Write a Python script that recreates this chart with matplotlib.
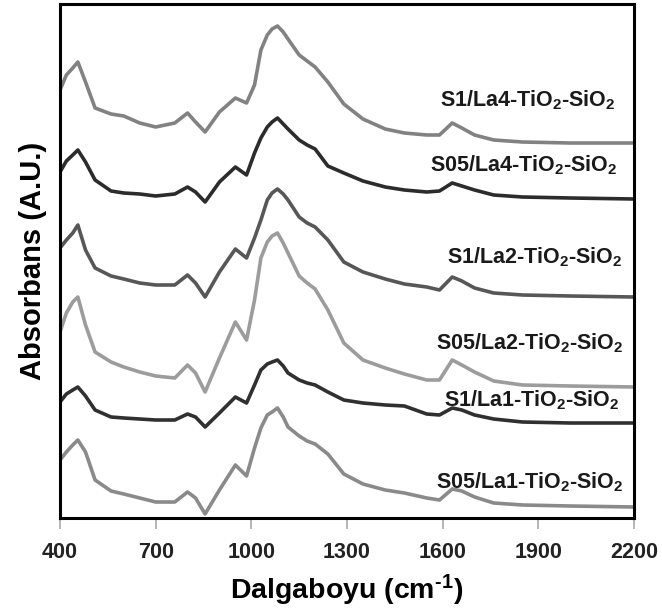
import numpy as np
import matplotlib
matplotlib.use("Agg")
import matplotlib.pyplot as plt

plt.rcParams['font.family'] = ['Liberation Sans', 'DejaVu Sans']
plt.rcParams['font.weight'] = 'bold'
plt.rcParams['mathtext.fontset'] = 'custom'
plt.rcParams['mathtext.bf'] = 'Liberation Sans:bold'
plt.rcParams['mathtext.rm'] = 'Liberation Sans:bold'
plt.rcParams['mathtext.default'] = 'bf'

# wavenumber grid (cm-1)
wn = [400, 420, 440, 456, 480, 510, 560, 600, 650, 700, 760, 800, 825, 855,
      900, 950, 985, 1010, 1030, 1050, 1065, 1082, 1100, 1115, 1150, 1175, 1200,
      1240, 1290, 1350, 1420, 1480, 1550, 1590, 1630, 1660, 1700, 1760, 1850,
      2000, 2200]

# absorbance (A.U., stacked with offsets as in the figure)
s1_la4 = [4.28, 4.43, 4.50, 4.56, 4.36, 4.10, 4.04, 4.02, 3.95, 3.91, 3.95, 4.05,
          3.96, 3.86, 4.06, 4.20, 4.15, 4.33, 4.68, 4.83, 4.89, 4.92, 4.86, 4.79,
          4.63, 4.57, 4.51, 4.36, 4.14, 3.99, 3.89, 3.85, 3.83, 3.83, 3.95, 3.90,
          3.83, 3.78, 3.76, 3.75, 3.75]
s05_la4 = [3.46, 3.57, 3.63, 3.68, 3.56, 3.38, 3.27, 3.25, 3.24, 3.22, 3.24, 3.31,
           3.26, 3.16, 3.36, 3.51, 3.43, 3.65, 3.80, 3.91, 3.96, 4.00, 3.94, 3.89,
           3.78, 3.73, 3.69, 3.52, 3.45, 3.37, 3.31, 3.28, 3.26, 3.27, 3.35, 3.32,
           3.28, 3.23, 3.21, 3.20, 3.19]
s1_la2 = [2.70, 2.78, 2.85, 2.93, 2.68, 2.50, 2.42, 2.39, 2.35, 2.33, 2.33, 2.43,
          2.35, 2.21, 2.46, 2.69, 2.60, 2.80, 2.98, 3.18, 3.25, 3.29, 3.24, 3.18,
          3.01, 2.95, 2.91, 2.78, 2.56, 2.46, 2.39, 2.34, 2.31, 2.28, 2.41, 2.37,
          2.30, 2.25, 2.23, 2.22, 2.21]
s05_la2 = [1.86, 2.05, 2.16, 2.21, 1.93, 1.66, 1.56, 1.51, 1.46, 1.42, 1.40, 1.53,
           1.45, 1.26, 1.60, 1.96, 1.78, 2.18, 2.60, 2.76, 2.82, 2.85, 2.75, 2.65,
           2.42, 2.35, 2.29, 2.08, 1.75, 1.58, 1.50, 1.44, 1.38, 1.38, 1.58, 1.53,
           1.46, 1.37, 1.33, 1.32, 1.31]
s1_la1 = [1.16, 1.24, 1.28, 1.31, 1.22, 1.08, 1.01, 1.00, 0.99, 0.98, 0.98, 1.04,
          1.01, 0.91, 1.05, 1.21, 1.15, 1.33, 1.48, 1.54, 1.56, 1.58, 1.52, 1.45,
          1.38, 1.35, 1.33, 1.26, 1.18, 1.15, 1.13, 1.12, 1.04, 1.03, 1.10, 1.08,
          1.03, 0.99, 0.96, 0.95, 0.95]
s05_la1 = [0.58, 0.66, 0.73, 0.78, 0.66, 0.38, 0.27, 0.24, 0.20, 0.16, 0.16, 0.26,
           0.20, 0.04, 0.28, 0.53, 0.42, 0.70, 0.90, 1.03, 1.06, 1.10, 1.01, 0.91,
           0.82, 0.77, 0.74, 0.64, 0.44, 0.34, 0.28, 0.25, 0.20, 0.18, 0.29, 0.27,
           0.21, 0.15, 0.13, 0.12, 0.11]

names = ['S1/La4-TiO$_2$-SiO$_2$', 'S05/La4-TiO$_2$-SiO$_2$',
         'S1/La2-TiO$_2$-SiO$_2$', 'S05/La2-TiO$_2$-SiO$_2$',
         'S1/La1-TiO$_2$-SiO$_2$', 'S05/La1-TiO$_2$-SiO$_2$']
series = [s1_la4, s05_la4, s1_la2, s05_la2, s1_la1, s05_la1]
colors = ['#828282', '#2c2c2c', '#575757', '#9c9c9c', '#303030', '#8a8a8a']
label_y = [4.18, 3.53, 2.61, 1.75, 1.18, 0.36]
label_x = [2144, 2150, 2165, 2168, 2155, 2168]

fig = plt.figure(figsize=(6.62, 6.16), dpi=100)
ax = fig.add_axes([60/662, 98/616, 574/662, 514/616])

for y, c in zip(series, colors):
    ax.plot(wn, y, color=c, lw=2.6, solid_joinstyle='round', solid_capstyle='round')

for name, lx, ly in zip(names, label_x, label_y):
    ax.text(lx, ly, name, ha='right', va='center', fontsize=15.5, fontweight='bold',
            color='#1a1a1a')

ax.set_xlim(400, 2200)
ax.set_ylim(0, 5.14)
ax.set_xticks([400, 700, 1000, 1300, 1600, 1900, 2200])
ax.set_yticks([])
ax.tick_params(axis='x', direction='out', length=8, width=1.2, color='#aaaaaa',
               labelsize=15.5, labelcolor='#222222', pad=9)
for s in ax.spines.values():
    s.set_linewidth(2.2)
    s.set_color('black')

ax.set_xlabel(r'Dalgaboyu (cm$^{\text{-1}}$)', fontsize=20.5, fontweight='bold',
              labelpad=7)
ax.set_ylabel('Absorbans (A.U.)', fontsize=21, fontweight='bold', labelpad=9)

fig.savefig('out.png', dpi=100)
